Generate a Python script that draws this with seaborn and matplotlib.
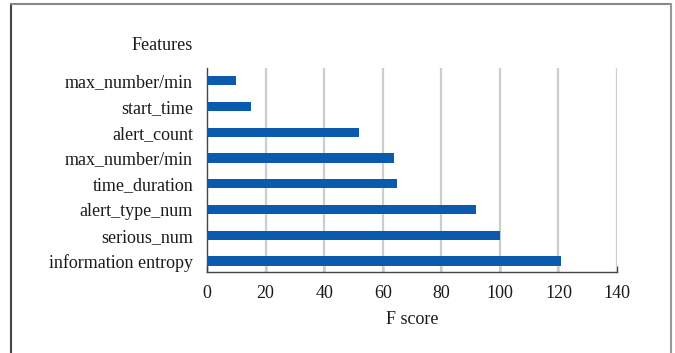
import matplotlib
matplotlib.use("Agg")
import matplotlib.pyplot as plt
from matplotlib.lines import Line2D
import seaborn as sns
import pandas as pd

features = ["max_number/min", "start_time", "alert_count", "max_number/min",
            "time_duration", "alert_type_num", "serious_num", "information entropy"]
f_scores = [10, 15, 52, 64, 65, 92, 100, 121]
x_ticks = [0, 20, 40, 60, 80, 100, 120, 140]

sns.set_theme(style="white")
plt.rcParams['font.family'] = ['Liberation Serif', 'DejaVu Serif']

W, H = 675, 353
FS = 13
TXT = "#1a1a1a"
fig = plt.figure(figsize=(W / 100, H / 100), dpi=100)
ax = fig.add_axes([207 / W, 1 - 272 / H, (617 - 207) / W, (272 - 68) / H])

df = pd.DataFrame({"pos": list(range(len(features))), "score": f_scores})
sns.barplot(data=df, x="score", y="pos", orient="h", color="#0a5aad",
            saturation=1, width=0.36, linewidth=0, ax=ax, zorder=3)

ax.set_xlim(0, 140)
ax.set_ylim(7.43, -0.5)
ax.set_xticks(x_ticks)
ax.set_xticklabels([str(t) for t in x_ticks], fontsize=FS, color=TXT)
ax.set_yticks(range(len(features)))
ax.set_yticklabels(features, fontsize=FS, color=TXT)
ax.yaxis.set_tick_params(which="both", length=0, left=False, right=False, pad=10)
ax.xaxis.set_tick_params(which="major", direction="in", length=4, width=1,
                         color="#444444", pad=9, bottom=True, top=False)
ax.minorticks_off()

for t in x_ticks[1:]:
    ax.axvline(t, color="#c9ced3", lw=1.6, zorder=1)

for s in ["top", "right"]:
    ax.spines[s].set_visible(False)
for s in ["left", "bottom"]:
    ax.spines[s].set_visible(True)
    ax.spines[s].set_color("#444444")
    ax.spines[s].set_linewidth(1.0)

ax.set_ylabel("")
ax.set_xlabel("F score", fontsize=FS, color=TXT, labelpad=7)

fig.text(193 / W, 1 - 46 / H, "Features", ha="right", va="center",
         fontsize=FS, color=TXT)

# figure border (left, top, right)
fig.add_artist(Line2D([11 / W, 11 / W], [0, 1 - 4 / H], color="#444444", lw=1.5, transform=fig.transFigure))
fig.add_artist(Line2D([11 / W, 671 / W], [1 - 4 / H, 1 - 4 / H], color="#888888", lw=1.5, transform=fig.transFigure))
fig.add_artist(Line2D([671 / W, 671 / W], [0, 1 - 4 / H], color="#999999", lw=1.5, transform=fig.transFigure))

fig.savefig("out.png", dpi=100)
